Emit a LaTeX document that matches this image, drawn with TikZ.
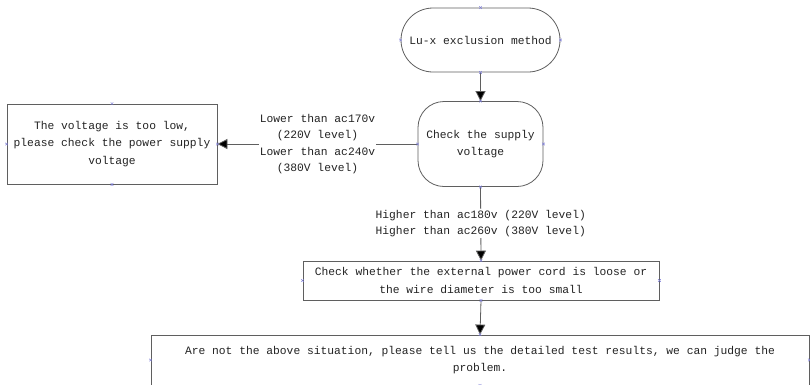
\documentclass[tikz,border=0pt]{standalone}
\usepackage{fontspec}
\setmainfont{Liberation Mono}
\usetikzlibrary{arrows.meta}

\definecolor{edgegray}{RGB}{95,95,95}
\definecolor{textgray}{RGB}{35,35,35}
\definecolor{cpblue}{RGB}{125,125,215}

\tikzset{
  flowbox/.style={draw=edgegray, line width=0.8pt, text=textgray, align=center,
    font=\fontsize{11.3}{17.5}\selectfont, inner sep=2pt},
  termbox/.style={flowbox},
  flowarrow/.style={draw=edgegray, line width=0.8pt,
    -{Triangle[width=10pt,length=10pt,fill=black]}},
  flowlabel/.style={fill=white, text=textgray, align=center, inner sep=1pt,
    font=\fontsize{11.3}{16.5}\selectfont},
  cpmark/.style={draw=cpblue, line width=0.5pt},
}

\begin{document}
\begin{tikzpicture}[x=1pt, y=-1pt]
\useasboundingbox (0,0) rectangle (810,384);
\fill[white] (0,0) rectangle (810,384);

% process shapes
\node[termbox, rounded corners=32pt, minimum width=159pt, minimum height=64pt]
  (start) at (480.5,40) {Lu-x exclusion method};
\node[termbox, rounded corners=26pt, minimum width=125pt, minimum height=85pt]
  (check) at (480.5,144) {Check the supply\\voltage};
\node[flowbox, minimum width=210pt, minimum height=80pt]
  (low) at (112,144) {The voltage is too low,\\please check the power supply\\voltage};
\node[flowbox, minimum width=356pt, minimum height=39pt]
  (cord) at (481,280.5) {Check whether the external power cord is loose or\\the wire diameter is too small};
\node[flowbox, minimum width=658pt, minimum height=50pt]
  (final) at (480,360) {Are not the above situation, please tell us the detailed test results, we can judge the\\problem.};

% connectors
\draw[flowarrow] (start.south) -- (check.north);
\draw[flowarrow] (check.west) -- (low.east)
  node[flowlabel, midway] (lowlbl) {Lower than ac170v\\(220V level)\\Lower than ac240v\\(380V level)};
\draw[flowarrow] (check.south) -- (cord.north)
  node[flowlabel, midway] (highlbl) {Higher than ac180v (220V level)\\Higher than ac260v (380V level)};
\draw[flowarrow] (cord.south) -- (final.north);

% connection points on the shape outlines
\foreach \n in {start,check,low,cord,final}{
  \foreach \a in {north,south,east,west}{
    \draw[cpmark] ([shift={(-1.3pt,-1.3pt)}]\n.\a) -- ([shift={(1.3pt,1.3pt)}]\n.\a)
                  ([shift={(-1.3pt,1.3pt)}]\n.\a) -- ([shift={(1.3pt,-1.3pt)}]\n.\a);
  }
}
\end{tikzpicture}
\end{document}
